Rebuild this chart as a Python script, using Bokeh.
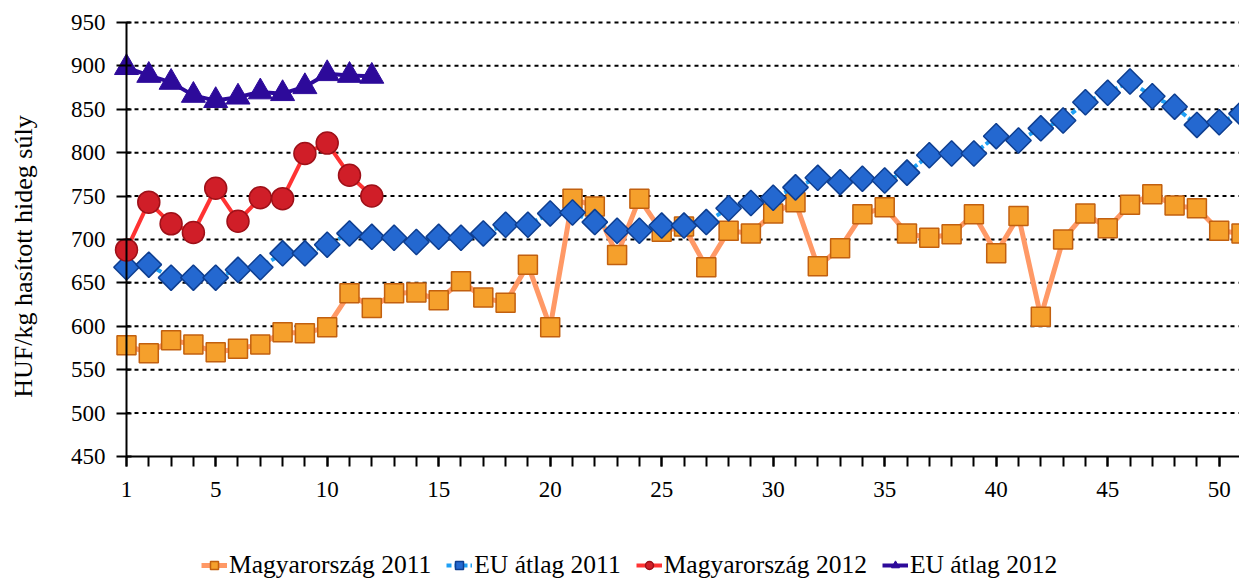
import math
from bokeh.plotting import figure
from bokeh.models import Range1d, FixedTicker, Legend, LegendItem, Label
from bokeh.embed import file_html
from bokeh.resources import INLINE

# ---- data ----
weeks_2011 = list(range(1, 52))
hu_2011 = [578, 569, 584, 579, 570, 574, 579, 593, 592, 599,
           638, 621, 638, 639, 630, 652, 633, 627, 671, 599,
           747, 738, 682, 747, 709, 715, 668, 710, 707, 730,
           743, 669, 690, 729, 737, 707, 702, 706, 729, 684,
           727, 611, 700, 730, 713, 740, 752, 739, 736, 710,
           707]
eu_2011 = [668, 671, 656, 656, 656, 665, 668, 684, 684, 694,
           707, 703, 702, 697, 703, 702, 707, 717, 717, 730,
           731, 720, 710, 710, 716, 716, 720, 736, 742, 748,
           760, 771, 766, 770, 768, 777, 797, 799, 799, 819,
           814, 828, 837, 858, 869, 882, 865, 853, 832, 835,
           845]
weeks_2012 = list(range(1, 13))
hu_2012 = [688, 743, 718, 708, 759, 721, 748, 747, 799, 811, 774, 750]
eu_2012 = [898, 889, 881, 866, 860, 864, 870, 868, 876, 891, 889, 888]

x_tick_labels = [1, 5, 10, 15, 20, 25, 30, 35, 40, 45, 50]
y_ticks = [450, 500, 550, 600, 650, 700, 750, 800, 850, 900, 950]

series_names = ["Magyarország 2011", "EU átlag 2011", "Magyarország 2012", "EU átlag 2012"]
y_title = "HUF/kg hasított hideg súly"

FONT = "Liberation Serif"
W, H = 1239, 580
X_START, X_END = -4.65, 50.91
Y_MIN, Y_MAX = y_ticks[0], y_ticks[-1]
Y_START, Y_END = 307.1, 975.3   # view extends around the 450..950 axis area

p = figure(width=W, height=H, output_backend="svg", toolbar_location=None,
           x_range=Range1d(X_START, X_END), y_range=Range1d(Y_START, Y_END),
           min_border_left=0, min_border_right=0, min_border_top=0, min_border_bottom=0)
p.outline_line_color = None
p.background_fill_color = "white"
p.border_fill_color = "white"
p.xgrid.grid_line_color = None
p.ygrid.grid_line_color = None

# dotted horizontal grid lines, starting at the y axis (week 1)
grid_y = y_ticks[1:]
p.segment(x0=[1] * len(grid_y), x1=[X_END] * len(grid_y), y0=grid_y, y1=grid_y,
          line_color="black", line_width=2, line_dash="4 4")

# x axis, placed at y = 450
xa = p.xaxis[0]
xa.fixed_location = Y_MIN
xa.bounds = (1, X_END)
xa.ticker = FixedTicker(ticks=x_tick_labels, minor_ticks=weeks_2011)
xa.axis_line_width = 2
xa.axis_line_color = "black"
xa.major_tick_line_width = 2
xa.minor_tick_line_width = 2
xa.major_tick_line_color = "black"
xa.minor_tick_line_color = "black"
xa.major_tick_in = 0
xa.major_tick_out = 10
xa.minor_tick_in = 0
xa.minor_tick_out = 10
xa.major_label_standoff = 16
xa.major_label_text_font = FONT
xa.major_label_text_font_size = "23px"
xa.major_label_text_color = "black"

# y axis placed at week 1
ya = p.yaxis[0]
ya.fixed_location = 1
ya.bounds = (Y_MIN, Y_MAX)
ya.ticker = FixedTicker(ticks=y_ticks)
ya.axis_line_width = 2
ya.axis_line_color = "black"
ya.major_tick_line_width = 2
ya.major_tick_line_color = "black"
ya.major_tick_in = 5
ya.major_tick_out = 10
ya.minor_tick_line_color = None
ya.major_label_standoff = 11
ya.major_label_text_font = FONT
ya.major_label_text_font_size = "23px"
ya.major_label_text_color = "black"

# y axis title
p.add_layout(Label(x=23, y=H - 256, x_units="screen", y_units="screen", text=y_title,
                   angle=math.pi / 2, text_align="center", text_baseline="middle",
                   text_font=FONT, text_font_size="26px", text_color="black"))

# series
l1 = p.line(weeks_2011, hu_2011, line_color="#FF9966", line_width=5)
s1 = p.scatter(weeks_2011, hu_2011, marker="square", size=19,
               fill_color="#F5A02C", line_color="#C2600F", line_width=1.5)
l2 = p.line(weeks_2011, eu_2011, line_color="#1EA0F5", line_width=4, line_dash="5 3")
s2 = p.scatter(weeks_2011, eu_2011, marker="square", angle=math.pi / 4, size=18,
               fill_color="#2468D0", line_color="#0E3E90", line_width=1.5)
l3 = p.line(weeks_2012, hu_2012, line_color="#FF3333", line_width=4)
s3 = p.scatter(weeks_2012, hu_2012, marker="circle", size=22,
               fill_color="#D01E28", line_color="#9E1018", line_width=1.5)
l4 = p.line(weeks_2012, eu_2012, line_color="#2D0A9A", line_width=4)
s4 = p.scatter(weeks_2012, eu_2012, marker="triangle", size=24,
               fill_color="#2D0A9A", line_color="#2D0A9A", line_width=1)

legend = Legend(items=[
    LegendItem(label=series_names[0], renderers=[l1, s1]),
    LegendItem(label=series_names[1], renderers=[l2, s2]),
    LegendItem(label=series_names[2], renderers=[l3, s3]),
    LegendItem(label=series_names[3], renderers=[l4, s4]),
], orientation="horizontal", location=(201, 0))
legend.label_text_font = FONT
legend.label_text_font_size = "25.5px"
legend.label_text_color = "black"
legend.glyph_width = 26
legend.glyph_height = 20
legend.label_standoff = 2
legend.spacing = 15
legend.padding = 0
legend.margin = 0
legend.border_line_color = None
legend.background_fill_alpha = 0
p.add_layout(legend, "center")

open("out.html", "w").write(file_html(p, INLINE))
